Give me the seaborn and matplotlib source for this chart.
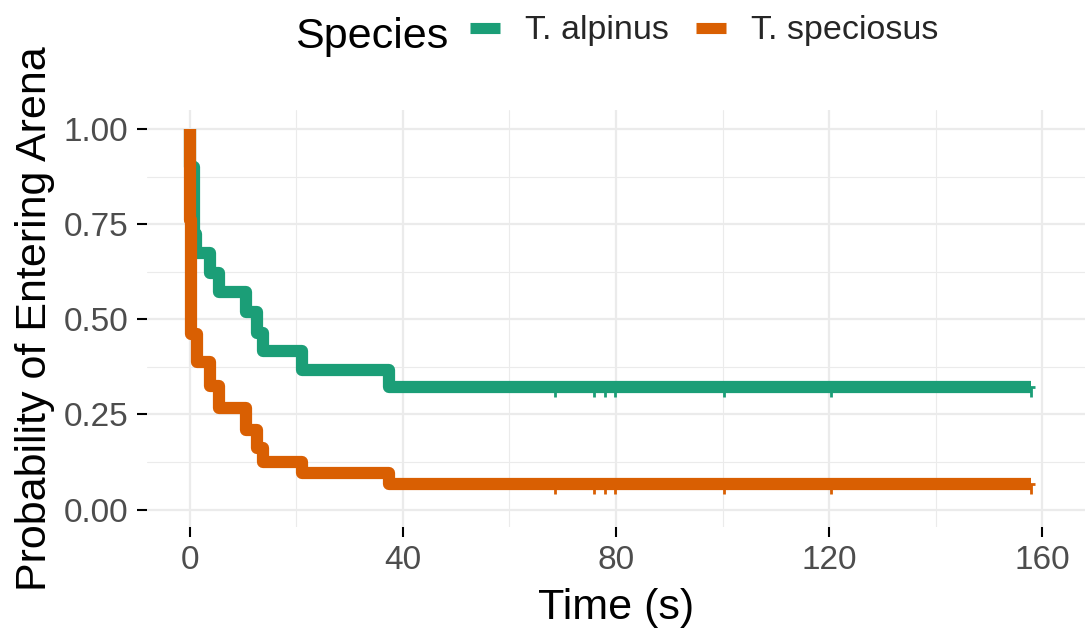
import numpy as np
import pandas as pd
import matplotlib
matplotlib.use("Agg")
import matplotlib.pyplot as plt
import seaborn as sns
from matplotlib.path import Path
from matplotlib.markers import MarkerStyle
from matplotlib.lines import Line2D
from matplotlib.ticker import MultipleLocator

# ---- data ----
species = ["T. alpinus", "T. speciosus"]
colors = ["#1B9E77", "#D95F02"]

time_alpinus = [0.0, 0.05, 0.9, 1.2, 3.8, 5.6, 10.6, 12.7, 13.7, 21.0, 37.4, 157.8]
surv_alpinus = [1.0, 0.90, 0.724, 0.675, 0.621, 0.572, 0.52, 0.464, 0.418, 0.367, 0.322, 0.322]

time_speciosus = [0.0, 0.05, 0.3, 1.4, 3.8, 5.6, 10.6, 12.7, 13.7, 21.0, 37.4, 157.8]
surv_speciosus = [1.0, 0.76, 0.462, 0.389, 0.324, 0.266, 0.21, 0.162, 0.126, 0.095, 0.067, 0.067]

censor_times = [68.5, 75.8, 78.0, 79.8, 100.2, 120.4, 157.8]

x_ticks = [0, 40, 80, 120, 160]
y_ticks = [0.00, 0.25, 0.50, 0.75, 1.00]
y_tick_labels = ["0.00", "0.25", "0.50", "0.75", "1.00"]

# ---- build tables ----
curve = pd.concat([
    pd.DataFrame({"time": time_alpinus, "surv": surv_alpinus, "Species": species[0]}),
    pd.DataFrame({"time": time_speciosus, "surv": surv_speciosus, "Species": species[1]}),
], ignore_index=True)

def step_value(ts, ss, t):
    idx = np.searchsorted(ts, t, side="right") - 1
    return ss[idx]

cens_rows = []
for sp, ts, ss in [(species[0], time_alpinus, surv_alpinus), (species[1], time_speciosus, surv_speciosus)]:
    for t in censor_times:
        cens_rows.append({"time": t, "surv": step_value(ts, ss, t), "Species": sp})
cens = pd.DataFrame(cens_rows)

palette = dict(zip(species, colors))

# ---- figure ----
sns.set_theme(style="whitegrid")
plt.rcParams["font.family"] = ["Liberation Sans", "DejaVu Sans"]

fig = plt.figure(figsize=(10.87, 6.39), dpi=100)
fig.patch.set_facecolor("white")
ax = fig.add_axes([147/1087, 1 - 526.7/639, (1085 - 147)/1087, (526.7 - 110)/639])
ax.set_facecolor("white")

sns.lineplot(data=curve, x="time", y="surv", hue="Species", palette=palette,
             hue_order=species, drawstyle="steps-post", linewidth=8.8,
             estimator=None, sort=False, legend=False, ax=ax,
             solid_capstyle="butt", solid_joinstyle="round", zorder=3)

cmark = MarkerStyle(Path([(0, 0.05), (0, -1.0), (-0.4, 0.0), (0.4, 0.0)],
                         [Path.MOVETO, Path.LINETO, Path.MOVETO, Path.LINETO]))
sns.scatterplot(data=cens, x="time", y="surv", hue="Species", palette=palette,
                hue_order=species, marker=cmark, s=210, linewidth=2.0,
                edgecolor="face", legend=False, ax=ax, zorder=2)

ax.set_xlim(-8.0, 168.0)
ax.set_ylim(-0.045, 1.05)
ax.set_xticks(x_ticks)
ax.set_xticklabels([str(v) for v in x_ticks])
ax.set_yticks(y_ticks)
ax.set_yticklabels(y_tick_labels)
ax.xaxis.set_minor_locator(MultipleLocator(20))
ax.yaxis.set_minor_locator(MultipleLocator(0.125))

ax.grid(which="major", color="#EBEBEB", linewidth=1.6)
ax.grid(which="minor", color="#EBEBEB", linewidth=0.8)
ax.set_axisbelow(True)
for s in ax.spines.values():
    s.set_visible(False)

ax.tick_params(axis="both", which="major", length=7, width=1.5, color="black",
               labelsize=24, labelcolor="#4D4D4D", pad=6.5)
ax.tick_params(axis="both", which="minor", length=0)
ax.tick_params(axis="x", bottom=True)
ax.tick_params(axis="y", left=True)

ax.set_xlabel("Time (s)", fontsize=31, color="black")
ax.set_ylabel("Probability of Entering Arena", fontsize=31, color="black")
ax.xaxis.label.set_va("center")
ax.yaxis.label.set_va("center")
ax.xaxis.set_label_coords(0.5, -(608 - 526.7) / (526.7 - 110))
ax.yaxis.set_label_coords((35 - 147) / (1085 - 147), 0.5)

# legend
fig.text(295/1087, 1 - 47.7/639, "Species", fontsize=31, color="black", va="baseline", ha="left")
handles = [Line2D([], [], color=c, lw=8, solid_capstyle="butt") for c in colors]
fig.legend(handles, species, loc="center", bbox_to_anchor=(704.5/1087, 1 - 31/639),
           ncol=2, frameon=False, fontsize=24.5, handlelength=0.88, handletextpad=0.74,
           columnspacing=0.79, borderpad=0, borderaxespad=0)

fig.savefig("out.png", dpi=100)
